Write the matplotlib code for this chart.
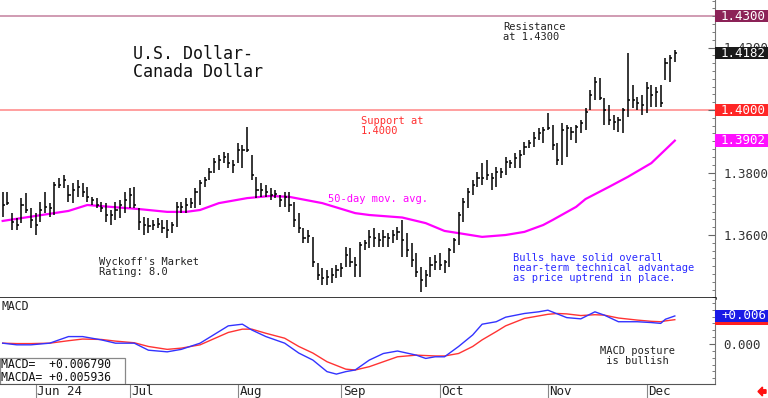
import numpy as np
import pandas as pd
import matplotlib
matplotlib.use('Agg')
import matplotlib.pyplot as plt
import matplotlib.patches as mpatches
from matplotlib.ticker import MultipleLocator
from matplotlib.transforms import blended_transform_factory

# ── Data ──────────────────────────────────────────────────────────────────
START = '2024-05-23'   # first bar, business days after that

high = [
    1.3738, 1.3738, 1.3670, 1.3654, 1.3718, 1.3734, 1.3686, 1.3670, 1.3706, 1.3738,
    1.3702, 1.3770, 1.3782, 1.3792, 1.3760, 1.3766, 1.3776, 1.3766, 1.3754, 1.3722,
    1.3718, 1.3706, 1.3702, 1.3680, 1.3706, 1.3712, 1.3738, 1.3750, 1.3754, 1.3686,
    1.3658, 1.3654, 1.3648, 1.3654, 1.3648, 1.3648, 1.3642, 1.3706, 1.3706, 1.3718,
    1.3718, 1.3750, 1.3776, 1.3786, 1.3814, 1.3846, 1.3856, 1.3866, 1.3862, 1.3840,
    1.3894, 1.3888, 1.3946, 1.3856, 1.3786, 1.3766, 1.3760, 1.3750, 1.3744, 1.3728,
    1.3738, 1.3738, 1.3706, 1.3670, 1.3622, 1.3616, 1.3594, 1.3510, 1.3494, 1.3488,
    1.3494, 1.3504, 1.3510, 1.3562, 1.3558, 1.3530, 1.3578, 1.3584, 1.3616, 1.3622,
    1.3606, 1.3616, 1.3606, 1.3616, 1.3626, 1.3648, 1.3606, 1.3574, 1.3542, 1.3498,
    1.3488, 1.3530, 1.3536, 1.3542, 1.3520, 1.3558, 1.3590, 1.3674, 1.3718, 1.3750,
    1.3776, 1.3802, 1.3830, 1.3840, 1.3798, 1.3818, 1.3814, 1.3850, 1.3840, 1.3862,
    1.3872, 1.3898, 1.3904, 1.3930, 1.3942, 1.3946, 1.3990, 1.3952, 1.3894, 1.3958,
    1.3952, 1.3946, 1.3952, 1.3968, 1.4006, 1.4064, 1.4106, 1.4102, 1.4038, 1.4016,
    1.3984, 1.3978, 1.4006, 1.4182, 1.4080, 1.4042, 1.4048, 1.4090, 1.4080, 1.4074,
    1.4080, 1.4166, 1.4176, 1.4192,
]
low = [
    1.3658, 1.3696, 1.3616, 1.3616, 1.3638, 1.3670, 1.3622, 1.3600, 1.3642, 1.3670,
    1.3658, 1.3664, 1.3750, 1.3750, 1.3706, 1.3702, 1.3722, 1.3722, 1.3706, 1.3696,
    1.3686, 1.3674, 1.3642, 1.3632, 1.3648, 1.3654, 1.3670, 1.3686, 1.3686, 1.3616,
    1.3600, 1.3606, 1.3616, 1.3622, 1.3606, 1.3590, 1.3606, 1.3626, 1.3670, 1.3670,
    1.3686, 1.3686, 1.3696, 1.3754, 1.3776, 1.3798, 1.3808, 1.3830, 1.3814, 1.3798,
    1.3830, 1.3814, 1.3866, 1.3776, 1.3718, 1.3722, 1.3722, 1.3712, 1.3718, 1.3690,
    1.3690, 1.3674, 1.3626, 1.3606, 1.3574, 1.3574, 1.3498, 1.3456, 1.3440, 1.3440,
    1.3446, 1.3462, 1.3466, 1.3498, 1.3498, 1.3466, 1.3466, 1.3552, 1.3558, 1.3562,
    1.3562, 1.3562, 1.3562, 1.3574, 1.3584, 1.3530, 1.3530, 1.3498, 1.3466, 1.3418,
    1.3434, 1.3466, 1.3488, 1.3488, 1.3478, 1.3498, 1.3542, 1.3568, 1.3642, 1.3686,
    1.3728, 1.3754, 1.3760, 1.3776, 1.3744, 1.3754, 1.3782, 1.3792, 1.3814, 1.3814,
    1.3814, 1.3856, 1.3878, 1.3882, 1.3904, 1.3894, 1.3936, 1.3872, 1.3824, 1.3824,
    1.3850, 1.3904, 1.3894, 1.3926, 1.3936, 1.4000, 1.4032, 1.4032, 1.3952, 1.3952,
    1.3936, 1.3930, 1.3926, 1.3978, 1.4006, 1.4000, 1.3984, 1.3990, 1.4010, 1.4010,
    1.4010, 1.4096, 1.4090, 1.4154,
]
close = [
    1.3696, 1.3702, 1.3642, 1.3632, 1.3696, 1.3680, 1.3648, 1.3632, 1.3680, 1.3690,
    1.3686, 1.3760, 1.3760, 1.3776, 1.3728, 1.3744, 1.3754, 1.3738, 1.3722, 1.3712,
    1.3696, 1.3686, 1.3664, 1.3664, 1.3680, 1.3696, 1.3712, 1.3728, 1.3696, 1.3642,
    1.3632, 1.3629, 1.3632, 1.3635, 1.3622, 1.3616, 1.3632, 1.3690, 1.3690, 1.3696,
    1.3702, 1.3738, 1.3766, 1.3776, 1.3802, 1.3834, 1.3840, 1.3850, 1.3830, 1.3824,
    1.3872, 1.3872, 1.3872, 1.3792, 1.3744, 1.3744, 1.3738, 1.3728, 1.3731, 1.3712,
    1.3722, 1.3696, 1.3648, 1.3622, 1.3590, 1.3597, 1.3514, 1.3472, 1.3462, 1.3466,
    1.3472, 1.3488, 1.3494, 1.3536, 1.3514, 1.3504, 1.3568, 1.3574, 1.3594, 1.3590,
    1.3584, 1.3594, 1.3590, 1.3600, 1.3610, 1.3584, 1.3552, 1.3520, 1.3482, 1.3456,
    1.3472, 1.3504, 1.3514, 1.3504, 1.3514, 1.3552, 1.3584, 1.3664, 1.3706, 1.3738,
    1.3760, 1.3782, 1.3782, 1.3792, 1.3782, 1.3802, 1.3802, 1.3834, 1.3830, 1.3846,
    1.3856, 1.3882, 1.3894, 1.3910, 1.3926, 1.3936, 1.3942, 1.3888, 1.3840, 1.3936,
    1.3942, 1.3930, 1.3946, 1.3958, 1.3994, 1.4048, 1.4090, 1.4038, 1.4000, 1.3968,
    1.3962, 1.3968, 1.4000, 1.4032, 1.4032, 1.4022, 1.4016, 1.4070, 1.4048, 1.4058,
    1.4022, 1.4150, 1.4166, 1.4182,
]

# 50-day moving average, sampled at these bars
ma_idx = [0, 7, 14, 18, 23, 29, 35, 39, 42, 46, 52, 57, 61, 68, 75, 78, 85, 90, 94,
          97, 102, 107, 111, 115, 117, 122, 124, 129, 133, 138, 143]
ma_val = [1.3645, 1.3661, 1.3677, 1.3696, 1.3690, 1.3683, 1.3674, 1.3674, 1.3680,
          1.3702, 1.3718, 1.3725, 1.3722, 1.3702, 1.3670, 1.3664, 1.3656, 1.3638,
          1.3613, 1.3606, 1.3594, 1.3600, 1.3610, 1.3632, 1.3648, 1.3690, 1.3715,
          1.3754, 1.3786, 1.3830, 1.3902]

# MACD (blue) and its average (red), sampled at these bars
macd_idx = [0, 3, 6, 10, 14, 17, 21, 24, 28, 31, 35, 38, 42, 46, 48, 51, 53, 56, 60, 63,
            66, 69, 71, 73, 75, 78, 81, 84, 88, 90, 92, 94, 97, 100, 102, 105, 107, 111,
            114, 116, 118, 120, 123, 126, 128, 131, 135, 138, 140, 141, 143]
macd_val = [0.0002, -0.0002, -0.0002, 0.0002, 0.0018, 0.0018, 0.0010, 0.0002, 0.0002,
            -0.0015, -0.0019, -0.0013, 0.0002, 0.0030, 0.0044, 0.0048, 0.0034, 0.0018,
            0.0002, -0.0022, -0.0039, -0.0067, -0.0073, -0.0067, -0.0063, -0.0039,
            -0.0023, -0.0017, -0.0027, -0.0035, -0.0031, -0.0031, -0.0006, 0.0022,
            0.0048, 0.0054, 0.0065, 0.0074, 0.0078, 0.0082, 0.0073, 0.0064, 0.0061,
            0.0078, 0.0070, 0.0054, 0.0054, 0.0052, 0.0050, 0.0060, 0.0068]
macda_val = [0.0002, 0.0001, 0.0001, 0.0002, 0.0008, 0.0012, 0.0011, 0.0007, 0.0003,
             -0.0006, -0.0013, -0.0010, -0.0002, 0.0018, 0.0028, 0.0036, 0.0036, 0.0026,
             0.0014, -0.0006, -0.0022, -0.0043, -0.0052, -0.0061, -0.0063, -0.0055,
             -0.0043, -0.0031, -0.0027, -0.0028, -0.0029, -0.0029, -0.0023, -0.0006,
             0.0010, 0.0030, 0.0044, 0.0062, 0.0068, 0.0072, 0.0074, 0.0073, 0.0069,
             0.0071, 0.0070, 0.0063, 0.0058, 0.0055, 0.0054, 0.0056, 0.0059]

RESIST = 1.4300
SUPPORT = 1.4000
LAST_CLOSE = 1.4182
LAST_MA = 1.3902
MACD_LAST = 0.006790
MACDA_LAST = 0.005936
MACD_TAG = '+0.006'          # value box on the MACD scale (truncated in the source)

# ── Layout ────────────────────────────────────────────────────────────────
W, H = 768, 398
AX_R = 715          # right spine, px
SPLIT = 298         # panel divider, px
M_BOT = 384         # bottom of MACD panel, px
MONO = 'DejaVu Sans Mono'

dates = pd.bdate_range(START, periods=len(close))
idx = np.arange(len(close))
XL = (-0.57, 151.55)

fig = plt.figure(figsize=(W / 100, H / 100), dpi=100)
fig.patch.set_facecolor('white')
ax = fig.add_axes([0, 1 - SPLIT / H, AX_R / W, SPLIT / H])
axm = fig.add_axes([0, 1 - M_BOT / H, AX_R / W, (M_BOT - SPLIT) / H])


def fr(x, y, top=0, bot=SPLIT):
    """pixel position -> axes fraction for a panel spanning rows top..bot"""
    return x / AX_R, (bot - y) / (bot - top)


# ── Price panel ───────────────────────────────────────────────────────────
ax.set_xlim(*XL)
ax.set_ylim(1.33984, 1.4352)
ax.axhline(RESIST, color='#c88aa6', lw=1.2, zorder=1)
ax.axhline(SUPPORT, color='#ff8f8f', lw=1.2, zorder=1)
ax.vlines(idx, low, high, color='black', lw=1.1, zorder=3)
ax.hlines(close, idx, idx + 0.45, color='black', lw=1.1, zorder=3)
ax.plot(ma_idx, ma_val, color='#ff00ff', lw=1.6, zorder=2)

for s in ('top', 'left'):
    ax.spines[s].set_visible(False)
ax.spines['right'].set_color('#777777')
ax.spines['bottom'].set_color('black')
ax.spines['bottom'].set_linewidth(1.8)
ax.set_xticks([])
ax.yaxis.tick_right()
ax.set_yticks([1.36, 1.38, 1.40, 1.42])
ax.set_yticklabels(['1.3600', '1.3800', '', '1.4200'])
ax.yaxis.set_minor_locator(MultipleLocator(0.0025))
ax.tick_params(axis='y', which='both', direction='in', colors='#666666',
               labelcolor='#333333', labelsize=9, labelfontfamily=MONO, pad=6)
ax.tick_params(axis='y', which='major', length=5)
ax.tick_params(axis='y', which='minor', length=2.5)


def tag(axis, y, text, fc, h, show_text=True):
    tr = blended_transform_factory(axis.transAxes, axis.transData)
    axis.add_patch(mpatches.Rectangle((1.0, y - h / 2), 0.08, h, transform=tr,
                                      facecolor=fc, edgecolor='none',
                                      clip_on=False, zorder=10))
    if show_text:
        axis.text(766 / AX_R, y, text, transform=tr, ha='right', va='center',
                  color='white', fontsize=9, family=MONO, zorder=11, clip_on=False)


BOX_H = 0.00395
tag(ax, RESIST, f'{RESIST:.4f}', '#8c2257', BOX_H)
tag(ax, LAST_CLOSE, f'{LAST_CLOSE:.4f}', '#1a1a1a', BOX_H)
tag(ax, SUPPORT, f'{SUPPORT:.4f}', '#ff2626', BOX_H)
tag(ax, LAST_MA, f'{LAST_MA:.4f}', '#ff10ff', BOX_H)

# annotations
ax.text(*fr(133, 45), 'U.S. Dollar-\nCanada Dollar', transform=ax.transAxes,
        ha='left', va='top', fontsize=12, family=MONO, linespacing=1.0, color='#111111')
ax.text(*fr(503, 22), 'Resistance\nat 1.4300', transform=ax.transAxes,
        ha='left', va='top', fontsize=7.5, family=MONO, linespacing=1.0, color='#222222')
ax.text(*fr(361, 116), 'Support at\n1.4000', transform=ax.transAxes,
        ha='left', va='top', fontsize=7.5, family=MONO, linespacing=1.0, color='#ff3030')
ax.text(*fr(328, 194), '50-day mov. avg.', transform=ax.transAxes,
        ha='left', va='top', fontsize=7.5, family=MONO, color='#ff00ff')
ax.text(*fr(99, 257), "Wyckoff's Market\nRating: 8.0", transform=ax.transAxes,
        ha='left', va='top', fontsize=7.5, family=MONO, linespacing=1.0, color='#222222')
ax.text(*fr(513, 253),
        'Bulls have solid overall\nnear-term technical advantage\nas price uptrend in place.',
        transform=ax.transAxes, ha='left', va='top', fontsize=7.5, family=MONO,
        linespacing=1.0, color='#2a2aff')

# ── MACD panel ────────────────────────────────────────────────────────────
axm.set_xlim(*XL)
axm.set_ylim(-(M_BOT - 344) / 4124, (344 - SPLIT) / 4124)
axm.plot(macd_idx, macda_val, color='#ff3333', lw=1.0)
axm.plot(macd_idx, macd_val, color='#3333ff', lw=1.0)

for s in ('top', 'left'):
    axm.spines[s].set_visible(False)
axm.spines['right'].set_color('#777777')
axm.spines['bottom'].set_color('#555555')
axm.yaxis.tick_right()
axm.set_yticks([0.0])
axm.set_yticklabels(['0.000'])
axm.yaxis.set_minor_locator(MultipleLocator(0.00166))
axm.tick_params(axis='y', which='both', direction='in', colors='#666666',
                labelcolor='#333333', labelsize=9, labelfontfamily=MONO, pad=6)
axm.tick_params(axis='y', which='major', length=4)
axm.tick_params(axis='y', which='minor', length=2.5)

M_BOX = 0.0029
tag(axm, MACDA_LAST, '', '#ff2020', M_BOX, show_text=False)
tag(axm, MACD_LAST, MACD_TAG, '#1a1ae6', M_BOX)

axm.text(*fr(2, 306, SPLIT, M_BOT), 'MACD', transform=axm.transAxes,
         ha='left', va='center', fontsize=8.3, family=MONO, color='#222222')
axm.add_patch(mpatches.Rectangle((0, 0), 125 / AX_R, (M_BOT - 358) / (M_BOT - SPLIT),
                                 transform=axm.transAxes, facecolor='white',
                                 edgecolor='#888888', lw=0.9, zorder=4))
axm.text(*fr(1, 371, SPLIT, M_BOT),
         f'MACD=  +{MACD_LAST:.6f}\nMACDA= +{MACDA_LAST:.6f}',
         transform=axm.transAxes, ha='left', va='center', fontsize=8.3,
         family=MONO, linespacing=1.0, color='#111111', zorder=5)
axm.text(*fr(600, 346, SPLIT, M_BOT), 'MACD posture\n is bullish',
         transform=axm.transAxes, ha='left', va='top', fontsize=7.5,
         family=MONO, linespacing=1.0, color='#222222')

# month separators + labels below the MACD panel
months = dates.to_period('M')
firsts = [i for i in range(1, len(dates)) if months[i] != months[i - 1]]
m_labels = [dates[i].strftime('%b') for i in firsts]
m_labels[0] += dates[firsts[0]].strftime(' %y')
axm.set_xticks(firsts)
axm.set_xticklabels([])
axm.tick_params(axis='x', direction='out', length=10.5, width=0.8, colors='#888888')
trm = blended_transform_factory(axm.transData, axm.transAxes)
for i, lab in zip(firsts, m_labels):
    axm.text(i + 0.35, -1.0 / (M_BOT - SPLIT), lab, transform=trm, ha='left', va='top',
             fontsize=9, family=MONO, color='#222222', clip_on=False)

# small red arrow, bottom right
fig.patches.append(mpatches.FancyArrow(766 / W, 1 - 391.5 / H, -8 / W, 0,
                                       width=3.5 / H, head_width=9 / H,
                                       head_length=4.5 / W, length_includes_head=True,
                                       transform=fig.transFigure, color='#ff1010'))

fig.savefig('out.png', dpi=100)
